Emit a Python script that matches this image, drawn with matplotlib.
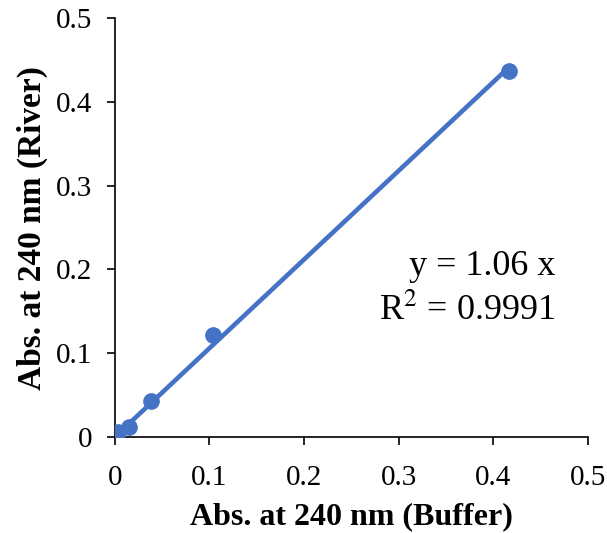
import numpy as np
import matplotlib.pyplot as plt

# absorbance at 240 nm, buffer vs river water
buffer_abs = [0.003, 0.015, 0.038, 0.104, 0.416]
river_abs = [0.006, 0.012, 0.043, 0.122, 0.437]
slope = 1.06
r_squared = 0.9991

plt.rcParams['font.family'] = ['Liberation Serif', 'DejaVu Serif']
plt.rcParams['mathtext.fontset'] = 'stix'

fig = plt.figure(figsize=(6.07, 5.33), dpi=100)
ax = fig.add_axes([0.189, 0.180, 0.780, 0.786])

blue = '#4472C4'
fit_x = np.array([min(buffer_abs), max(buffer_abs)])
ax.plot(fit_x, slope * fit_x, color=blue, lw=3.3, solid_capstyle='butt', zorder=2)
ax.plot(buffer_abs, river_abs, 'o', color=blue, ms=11, zorder=3)

ax.set_xlim(0, 0.5)
ax.set_ylim(0, 0.5)
ticks = [0, 0.1, 0.2, 0.3, 0.4, 0.5]
labels = ['0', '0.1', '0.2', '0.3', '0.4', '0.5']
ax.set_xticks(ticks, labels)
ax.set_yticks(ticks, labels)
ax.tick_params(labelsize=21, length=6, width=1.2, direction='out')
ax.tick_params(axis='x', pad=14)
ax.tick_params(axis='y', pad=10)
for side in ['top', 'right']:
    ax.spines[side].set_visible(False)
for side in ['left', 'bottom']:
    ax.spines[side].set_linewidth(1.2)

ax.set_xlabel('Abs. at 240 nm (Buffer)', fontsize=23, fontweight='bold', labelpad=8)
ax.set_ylabel('Abs. at 240 nm (River)', fontsize=24, fontweight='bold', labelpad=6)

ax.text(0.930, 0.387, f'y = {slope:.2f} x', transform=ax.transAxes,
        fontsize=26, ha='right', va='baseline')
ax.text(0.930, 0.279, f'R$^2$ = {r_squared:.4f}', transform=ax.transAxes,
        fontsize=26, ha='right', va='baseline')

fig.savefig('out.png', dpi=100)
